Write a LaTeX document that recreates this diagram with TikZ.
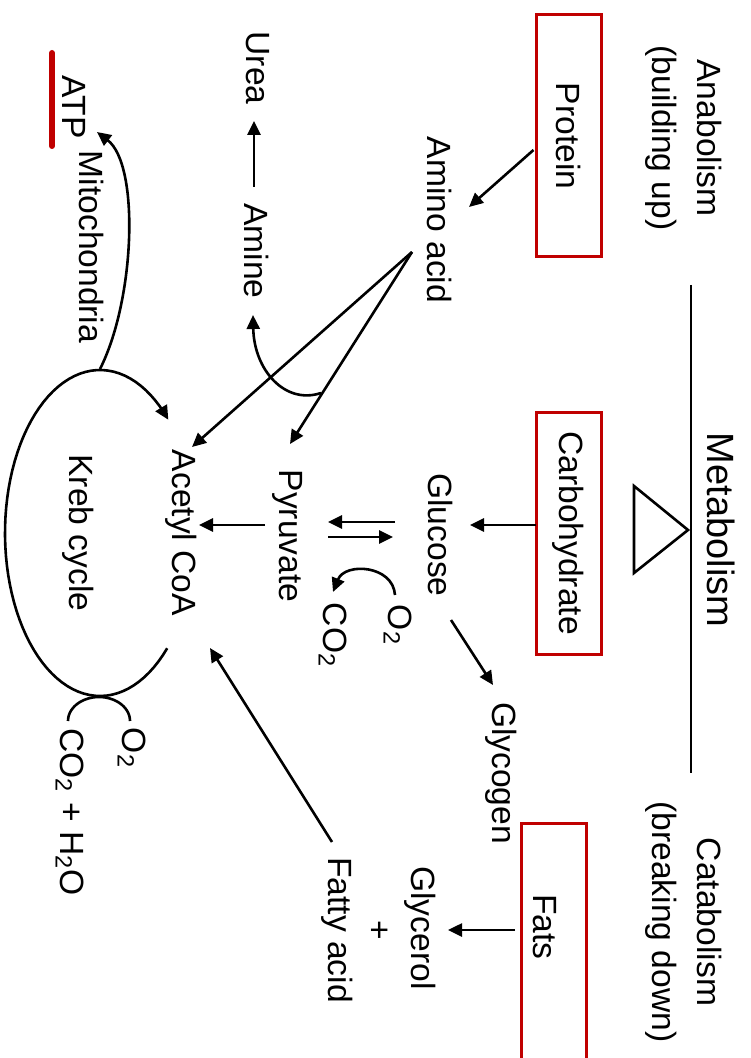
\documentclass[tikz,border=0pt]{standalone}
\usepackage{fontspec}
\setmainfont{Liberation Sans}
\usepackage{tikz}
\usetikzlibrary{arrows.meta, calc, positioning}
\definecolor{boxred}{RGB}{192,0,0}

\begin{document}
\begin{tikzpicture}[
    x=0.5pt, y=-0.5pt,
    txt/.style={rotate=-90, inner sep=1pt, align=center,
                font=\fontsize{16.8}{22.5}\selectfont},
    title/.style={txt, font=\fontsize{19}{23}\selectfont},
    redbox/.style={rectangle, draw=boxred, line width=1.5pt, rotate=-90,
                   minimum width=121pt, minimum height=32.5pt,
                   font=\fontsize{16.8}{22.5}\selectfont},
    arrow/.style={-{Triangle[length=7pt,width=6.5pt]}, line width=1.3pt},
    conn/.style={line width=1.3pt},
]
\useasboundingbox (0,0) rectangle (750,1058);

% ── Header ──
\node[txt] (anab) at (684,138) {Anabolism\\(building up)};
\node[title] (metab) at (721,530) {Metabolism};
\node[txt] (catab) at (684,922) {Catabolism\\(breaking down)};
\draw[conn] ($(metab)+(-30,-245)$) -- ($(metab)+(-30,243)$);
\draw[conn] ($(metab)+(-33,0)$) -- ($(metab)+(-87,-44)$)
  -- ($(metab)+(-87,43)$) -- cycle;

% ── Food groups ──
\node[redbox] (protein) at (568.5,136) {Protein};
\node[redbox] (carb) at (568.5,533) {Carbohydrate};
\node[redbox] (fatsbox) at (554,944) {};
\node[txt] (fats) at (545,927) {Fats};

% ── Protein branch ──
\node[txt] (amino) at (440,220) {Amino acid};
\node[txt] (amine) at (257,251) {Amine};
\node[txt] (urea) at (258,68) {Urea};

% ── Carbohydrate branch ──
\node[txt] (glucose) at (441,535) {Glucose};
\node[txt] (glycogen) at (501,773) {Glycogen};
\node[txt] (pyruvate) at (288,536) {Pyruvate};
\node[txt] (otwo) at (398,625) {O\textsubscript{2}};
\node[txt] (cotwo) at (333,635) {CO\textsubscript{2}};

% ── Fat branch ──
\node[txt] (glycerol) at (420,928) {Glycerol};
\node[txt] (plus) at (378,930) {+};
\node[txt] (fatty) at (337,930) {Fatty acid};

% ── Kreb cycle ──
\node[txt] (acetyl) at (181,533) {Acetyl CoA};
\node[txt] (kreb) at (78,533) {Kreb cycle};
\node[txt] (mito) at (92,247) {Mitochondria};
\node[txt] (atp) at (74,107) {ATP};
\node[txt] (kotwo) at (132,748) {O\textsubscript{2}};
\node[txt] (products) at (70,812) {CO\textsubscript{2} + H\textsubscript{2}O};
\draw[boxred, line width=3pt, line cap=round]
  ($(atp)+(-22,-54)$) -- ($(atp)+(-22,39)$);

% ── Arrows ──
\draw[arrow] ($(protein)+(-35,14)$) -- ($(amino)+(29,-13)$);
\draw[arrow] ($(amino)+(-28,32)$) -- ($(acetyl)+(11,-86)$);
\draw[arrow] ($(amino)+(-28,32)$) -- ($(pyruvate)+(2,-92)$);
\draw[arrow] (321,393) .. controls (285,405) and (254,370)
  .. ($(amine)+(-4,64)$);
\draw[arrow] ($(amine)+(-3,-64)$) -- ($(urea)+(-4,53)$);
\draw[arrow] ($(carb)+(-33,-8)$) -- ($(glucose)+(29,-10)$);
\draw[arrow] ($(glucose)+(10,85)$) -- ($(glycogen)+(-8,-88)$);
\draw[arrow] ($(glucose)+(-46,-13)$) -- ($(pyruvate)+(40,-14)$);
\draw[arrow] ($(pyruvate)+(40,1)$) -- ($(glucose)+(-48,2)$);
\draw[arrow] ($(otwo)+(-3,-30)$) .. controls (393,565) and (345,562)
  .. ($(cotwo)+(0,-43)$);
\draw[arrow] ($(pyruvate)+(-23,-11)$) -- ($(acetyl)+(18,-8)$);
\draw[arrow] ($(fats)+(-30,3)$) -- ($(glycerol)+(28,2)$);
\draw[arrow] ($(fatty)+(-5,-88)$) -- ($(acetyl)+(29,115)$);

% ── Cycle loop ──
\draw[arrow] plot[domain=45:316, samples=80]
  ({100+95*cos(\x)},{533+163*sin(\x)});
\draw[conn] plot[domain=0:180, samples=40]
  ({99+31*cos(\x)},{721-24*sin(\x)});
\draw[arrow] (100,369) .. controls (135,300) and (140,165)
  .. ($(atp)+(23,25)$);

\end{tikzpicture}
\end{document}
